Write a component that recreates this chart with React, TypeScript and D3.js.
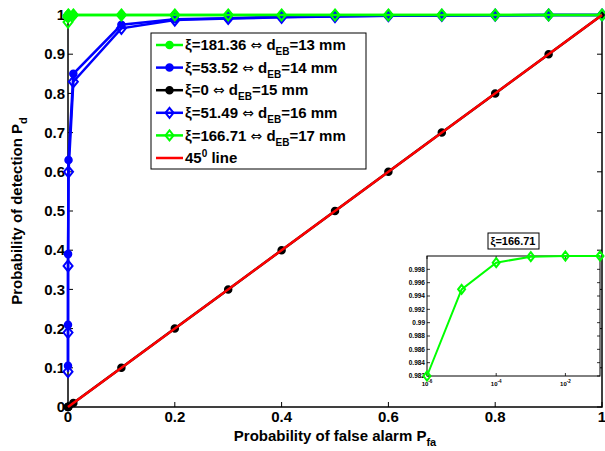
import React from "react";
import { scaleLinear, scaleLog, line, range } from "d3";

// false alarm probabilities used for every curve
const pfa = [1e-6, 1e-5, 1e-4, 1e-3, 1e-2, 0.1, 0.2, 0.3, 0.4, 0.5, 0.6, 0.7, 0.8, 0.9, 1.0];

const pdXi18136 = [0.993, 0.9985, 0.9998, 1, 1, 1, 1, 1, 1, 1, 1, 1, 1, 1, 1];
const pdXi5352 = [0.105, 0.21, 0.39, 0.63, 0.85, 0.975, 0.989, 0.992, 0.995, 0.997, 0.998, 0.999, 0.9995, 1, 1];
const pdXi0 = [1e-6, 1e-5, 1e-4, 1e-3, 1e-2, 0.1, 0.2, 0.3, 0.4, 0.5, 0.6, 0.7, 0.8, 0.9, 1.0];
const pdXi5149 = [0.09, 0.19, 0.36, 0.6, 0.83, 0.966, 0.987, 0.991, 0.994, 0.996, 0.998, 0.999, 0.9995, 1, 1];
const pdXi16671 = [0.982, 0.995, 0.999, 0.9999, 1, 1, 1, 1, 1, 1, 1, 1, 1, 1, 1];

const series = [
  { xi: "181.36", d: "13", color: "#00ff00", marker: "circle", values: pdXi18136 },
  { xi: "53.52", d: "14", color: "#0000ff", marker: "circle", values: pdXi5352 },
  { xi: "0", d: "15", color: "#000000", marker: "circle", values: pdXi0 },
  { xi: "51.49", d: "16", color: "#0000ff", marker: "diamond", values: pdXi5149 },
  { xi: "166.71", d: "17", color: "#00ff00", marker: "diamond", values: pdXi16671 },
];

// inset: zoom on the xi=166.71 curve (log x axis)
const insetPfa = [1e-6, 1e-5, 1e-4, 1e-3, 1e-2, 1e-1];
const insetPd = [0.982, 0.995, 0.999, 0.9999, 1, 1];
const insetYTicks = [0.982, 0.984, 0.986, 0.988, 0.99, 0.992, 0.994, 0.996, 0.998];
const insetXTicks = [1e-6, 1e-4, 1e-2];
const insetExp = ["-6", "-4", "-2"];

const width = 605;
const height = 451;
const margin = { top: 15, right: 3, bottom: 44, left: 68 };
const innerWidth = width - margin.left - margin.right;
const innerHeight = height - margin.top - margin.bottom;

const font = "'Liberation Sans', Arial, Helvetica, sans-serif";

const Marker = ({ type, x, y, color, r }) =>
  type === "circle" ? (
    <circle cx={x} cy={y} r={r} fill={color} stroke={color} strokeWidth={1.5} />
  ) : (
    <path
      d={`M${x},${y - r - 1}L${x + r},${y}L${x},${y + r + 1}L${x - r},${y}Z`}
      fill="none"
      stroke={color}
      strokeWidth={2}
    />
  );

export default function App() {
  const x = scaleLinear().domain([0, 1]).range([0, innerWidth]);
  const y = scaleLinear().domain([0, 1]).range([innerHeight, 0]);

  const xTicks = range(0, 1.0001, 0.2);
  const yTicks = range(0, 1.0001, 0.1);

  const lineGen = line<number>()
    .x((d, i) => x(pfa[i]))
    .y((d) => y(d));

  // inset geometry (in svg coords)
  const ins = { left: 427, top: 256, w: 173, h: 120 };
  const ix = scaleLog().domain([1e-6, 1e-1]).range([0, ins.w]);
  const iy = scaleLinear().domain([0.982, 1.0]).range([ins.h, 0]);
  const insetLine = line<number>()
    .x((d, i) => ix(insetPfa[i]))
    .y((d) => iy(d));

  const legend = { x: 151, y: 33, w: 215, h: 136, row: 22.6 };

  return (
    <svg width={width} height={height} style={{ position: "absolute", left: 0, top: 0, fontFamily: font }}>
      <rect width={width} height={height} fill="white" />
      <g transform={`translate(${margin.left},${margin.top})`}>
        {/* axes box + ticks */}
        <rect width={innerWidth} height={innerHeight} fill="white" stroke="black" strokeWidth={1.5} />
        {xTicks.map((t) => (
          <g key={`xt${t}`} transform={`translate(${x(t)},0)`}>
            <line y1={innerHeight} y2={innerHeight - 5} stroke="black" strokeWidth={1} />
            <line y1={0} y2={5} stroke="black" strokeWidth={1} />
            <text y={innerHeight + 15} textAnchor="middle" fontSize={15} fontWeight="bold">
              {+t.toFixed(1)}
            </text>
          </g>
        ))}
        {yTicks.map((t) => (
          <g key={`yt${t}`} transform={`translate(0,${y(t)})`}>
            <line x1={0} x2={5} stroke="black" strokeWidth={1} />
            <line x1={innerWidth} x2={innerWidth - 5} stroke="black" strokeWidth={1} />
            <text x={-3} dy="0.35em" textAnchor="end" fontSize={15} fontWeight="bold">
              {+t.toFixed(1)}
            </text>
          </g>
        ))}

        {/* data series */}
        {series.map((s) => (
          <g key={s.xi}>
            <path d={lineGen(s.values) || ""} fill="none" stroke={s.color} strokeWidth={2.5} />
            {s.values.map((v, i) => (
              <Marker key={i} type={s.marker} x={x(pfa[i])} y={y(v)} color={s.color} r={s.marker === "circle" ? 3.5 : 4.5} />
            ))}
          </g>
        ))}
        <line x1={x(0)} y1={y(0)} x2={x(1)} y2={y(1)} stroke="#ff0000" strokeWidth={2.5} />
      </g>

      {/* axis titles */}
      <text x={margin.left + innerWidth / 2} y={441} textAnchor="middle" fontSize={15} fontWeight="bold">
        Probability of false alarm P
        <tspan fontSize={11} dy={5}>fa</tspan>
      </text>
      <text transform={`translate(22,${margin.top + innerHeight / 2}) rotate(-90)`} textAnchor="middle" fontSize={15} fontWeight="bold">
        Probability of detection P
        <tspan fontSize={11} dy={5}>d</tspan>
      </text>

      {/* legend */}
      <g transform={`translate(${legend.x},${legend.y})`}>
        <rect width={legend.w} height={legend.h} fill="white" stroke="black" strokeWidth={1} />
        {series.map((s, i) => {
          const cy = 12 + i * legend.row;
          return (
            <g key={`lg${s.xi}`} transform={`translate(0,${cy})`}>
              <line x1={5} x2={32} stroke={s.color} strokeWidth={2.5} />
              <Marker type={s.marker} x={18.5} y={0} color={s.color} r={s.marker === "circle" ? 3.5 : 4} />
              <text x={34} dy="0.35em" fontSize={15} fontWeight="bold">
                {`ξ=${s.xi} `}
                <tspan fontFamily="'DejaVu Sans'" fontWeight="normal" fontSize={14}>⇔</tspan>
                {" d"}
                <tspan fontSize={10} dy={5}>EB</tspan>
                <tspan dy={-5}>{`=${s.d} mm`}</tspan>
              </text>
            </g>
          );
        })}
        <g transform={`translate(0,${12 + 5 * legend.row})`}>
          <line x1={5} x2={32} stroke="#ff0000" strokeWidth={2.5} />
          <text x={34} dy="0.35em" fontSize={15} fontWeight="bold">
            45
            <tspan fontSize={10} dy={-6}>0</tspan>
            <tspan dy={6}> line</tspan>
          </text>
        </g>
      </g>

      {/* inset */}
      <g transform={`translate(${ins.left},${ins.top})`}>
        <rect width={ins.w} height={ins.h} fill="white" stroke="black" strokeWidth={1} />
        {insetYTicks.map((t) => (
          <g key={`iy${t}`} transform={`translate(0,${iy(t)})`}>
            <line x1={0} x2={3} stroke="black" strokeWidth={0.8} />
            <line x1={ins.w} x2={ins.w - 3} stroke="black" strokeWidth={0.8} />
            <text x={-2} dy="0.35em" textAnchor="end" fontSize={6.5} fontWeight="bold">
              {+t.toFixed(3)}
            </text>
          </g>
        ))}
        {insetXTicks.map((t, i) => (
          <g key={`ix${t}`} transform={`translate(${ix(t)},0)`}>
            <line y1={ins.h} y2={ins.h - 3} stroke="black" strokeWidth={0.8} />
            <line y1={0} y2={3} stroke="black" strokeWidth={0.8} />
            <text y={ins.h + 10} textAnchor="middle" fontSize={6} fontWeight="bold">
              10
              <tspan fontSize={4.5} dy={-3}>{insetExp[i]}</tspan>
            </text>
          </g>
        ))}
        <path d={insetLine(insetPd) || ""} fill="none" stroke="#00ff00" strokeWidth={2} />
        {insetPd.map((v, i) => (
          <Marker key={i} type="diamond" x={ix(insetPfa[i])} y={iy(v)} color="#00ff00" r={3.5} />
        ))}
      </g>
      <g transform="translate(513,241)">
        <rect x={-25} y={-8} width={51} height={16} fill="white" stroke="black" strokeWidth={1} />
        <text dy="0.35em" textAnchor="middle" fontSize={11} fontWeight="bold">
          ξ=166.71
        </text>
      </g>
    </svg>
  );
}
